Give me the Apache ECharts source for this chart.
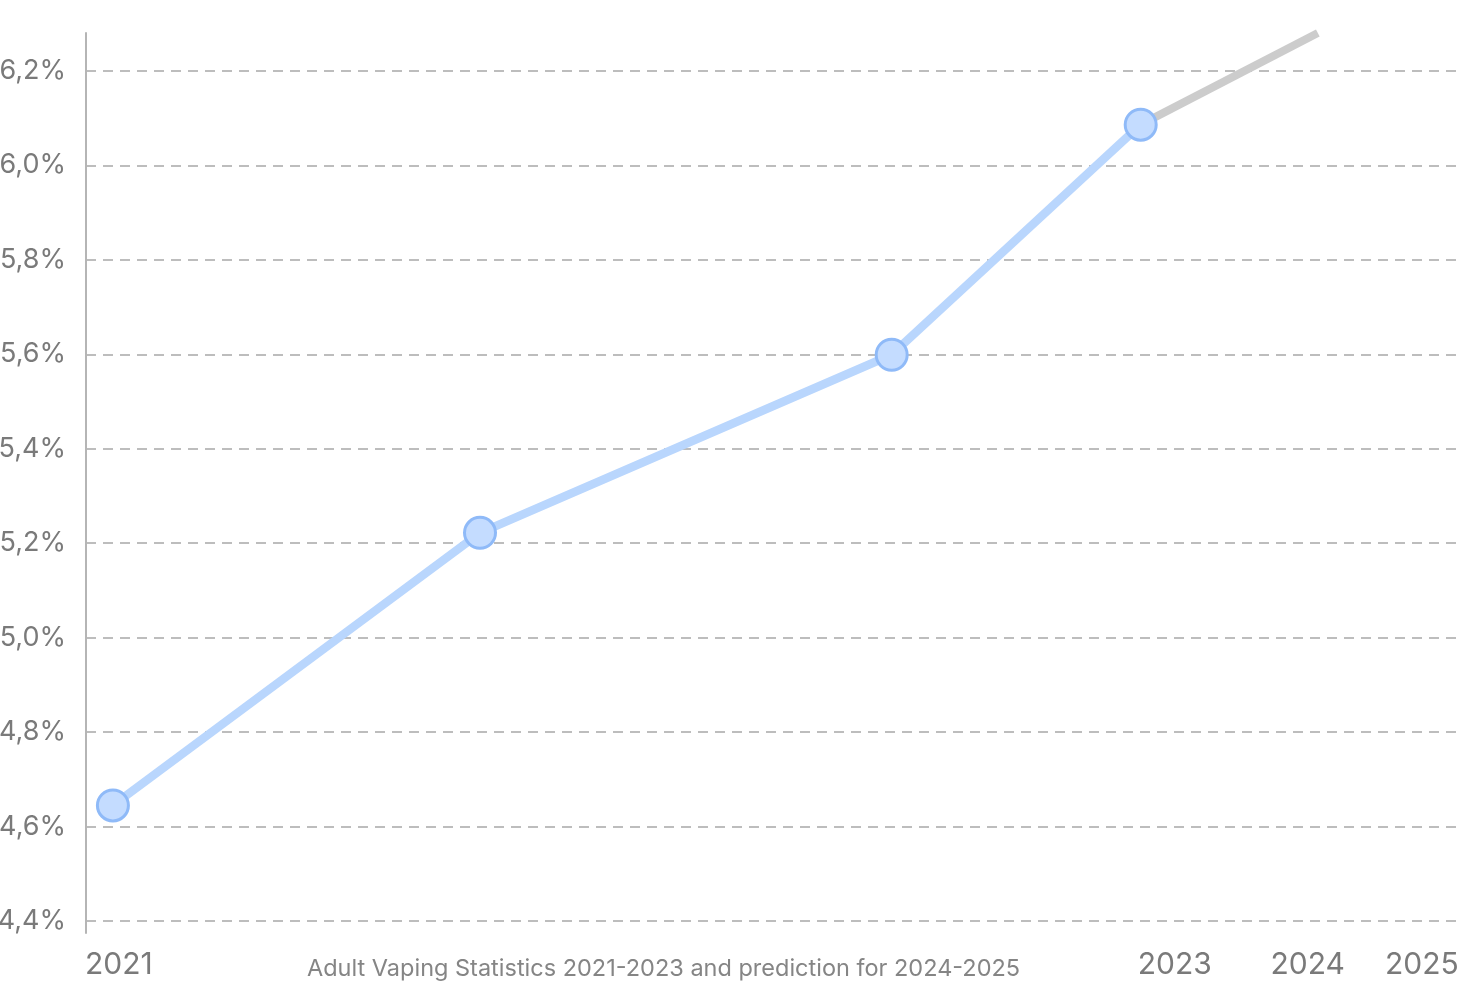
<!DOCTYPE html>
<html>
<head>
<meta charset="utf-8">
<script src="https://cdn.jsdelivr.net/npm/echarts@6/dist/echarts.min.js"></script>
<style>
html,body{margin:0;padding:0;background:#fff;}
#chart{width:1460px;height:989px;}
</style>
</head>
<body>
<div id="chart"></div>
<script>
// Observed data (x in fractional years, y in %)
const observedX = [2021.0, 2021.914, 2022.939, 2023.559];
const observedY = [4.645, 5.222, 5.599, 6.086];
// Prediction segment
const predictionX = [2023.559, 2024.0];
const predictionY = [6.086, 6.28];
// Axis ticks
const yTicks = [4.4, 4.6, 4.8, 5.0, 5.2, 5.4, 5.6, 5.8, 6.0, 6.2];
const xTickValues = [2021.015, 2023.644, 2023.975, 2024.259];
const xTickLabels = ['2021', '2023', '2024', '2025'];
const chartTitle = 'Adult Vaping Statistics 2021-2023 and prediction for 2024-2025';

const font = 'Inter, "Noto Sans", sans-serif';
const chart = echarts.init(document.getElementById('chart'));
chart.setOption({
  animation: false,
  backgroundColor: '#ffffff',
  title: {
    text: chartTitle,
    left: 302,
    top: 952,
    textStyle: {fontFamily: font, fontSize: 23.5, fontWeight: 'normal', color: '#858585'}
  },
  grid: {left: 86, right: 0, top: 33, bottom: 56, containLabel: false, outerBoundsMode: 'none'},
  xAxis: {
    type: 'value',
    min: 2020.933,
    max: 2024.354,
    axisLine: {show: false},
    axisTick: {show: false, customValues: xTickValues},
    splitLine: {show: false},
    axisLabel: {
      customValues: xTickValues,
      formatter: function (v) {
        let best = 0, d = Infinity;
        xTickValues.forEach(function (t, i) { if (Math.abs(t - v) < d) { d = Math.abs(t - v); best = i; } });
        return xTickLabels[best];
      },
      margin: 17,
      fontFamily: font,
      fontSize: 30,
      color: '#7a7a7a',
      hideOverlap: false
    }
  },
  yAxis: {
    type: 'value',
    min: 4.375,
    max: 6.28,
    axisLine: {show: true, lineStyle: {color: '#b5b5b5', width: 2}},
    axisTick: {show: false, customValues: yTicks},
    splitLine: {show: true, lineStyle: {color: '#bdbdbd', width: 2, type: [10, 7]}},
    axisLabel: {
      customValues: yTicks,
      formatter: function (v) { return v.toFixed(1).replace('.', ',') + '%'; },
      margin: 20,
      fontFamily: font,
      fontSize: 27,
      color: '#7a7a7a'
    }
  },
  series: [
    {
      type: 'line',
      data: predictionX.map(function (x, i) { return [x, predictionY[i]]; }),
      showSymbol: false,
      symbol: 'none',
      lineStyle: {color: '#cccccc', width: 8, cap: 'butt'},
      z: 1,
      clip: false
    },
    {
      type: 'line',
      data: observedX.map(function (x, i) { return [x, observedY[i]]; }),
      symbol: 'circle',
      symbolSize: 31,
      lineStyle: {color: '#b9d6fd', width: 8.5},
      itemStyle: {color: '#c4dcff', borderColor: '#8fbaf8', borderWidth: 3},
      z: 2,
      clip: false
    }
  ]
});
</script>
</body>
</html>
